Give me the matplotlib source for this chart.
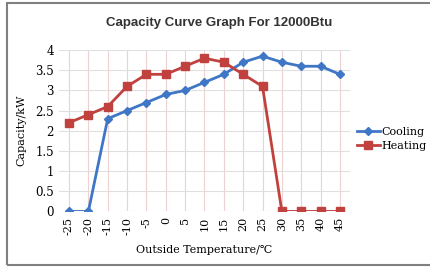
import numpy as np
import matplotlib.pyplot as plt
from matplotlib.patches import Rectangle

temps = [-25, -20, -15, -10, -5, 0, 5, 10, 15, 20, 25, 30, 35, 40, 45]
cooling = [0, 0, 2.3, 2.5, 2.7, 2.9, 3.0, 3.2, 3.4, 3.7, 3.85, 3.7, 3.6, 3.6, 3.4]
heating = [2.2, 2.4, 2.6, 3.1, 3.4, 3.4, 3.6, 3.8, 3.7, 3.4, 3.1, 0, 0, 0, 0]
yticks = [0, 0.5, 1, 1.5, 2, 2.5, 3, 3.5, 4]

serif = ['DejaVu Serif', 'Liberation Serif']

fig = plt.figure(figsize=(4.3, 2.68), dpi=100)
fig.patches.append(Rectangle((7 / 430, 3 / 268), 1.0, 262 / 268, transform=fig.transFigure,
                             fill=False, edgecolor='#808080', linewidth=1.5))
ax = fig.add_axes([0.138, 0.211, 0.675, 0.602])

x = np.arange(len(temps))
ax.plot(x, cooling, color='#3f76c6', marker='D', markersize=4.5, linewidth=2, label='Cooling', zorder=3)
ax.plot(x, heating, color='#c0413d', marker='s', markersize=6, linewidth=2, label='Heating', zorder=3)

ax.set_xlim(-0.5, len(temps) - 0.5)
ax.set_ylim(0, 4)
ax.set_xticks(x)
ax.set_xticklabels([str(t) for t in temps], rotation=90, fontsize=8, family=serif)
ax.set_yticks(yticks)
ax.set_yticklabels([f'{v:g}' for v in yticks], fontsize=8.5, family=serif)
ax.tick_params(length=0, pad=4)
for s in ax.spines.values():
    s.set_visible(False)
ax.yaxis.grid(True, color='#e0e0e0', linewidth=0.8)
ax.xaxis.grid(True, color='#ecd2d2', linewidth=0.8)
ax.set_axisbelow(True)

ax.set_ylabel('Capacity/kW', fontsize=8, family=serif, labelpad=6)
ax.set_xlabel('Outside Temperature/℃', fontsize=8, family=serif, labelpad=7)
fig.text(0.51, 0.915, 'Capacity Curve Graph For 12000Btu', ha='center', va='center',
         fontsize=9.5, fontweight='bold', family=['Liberation Sans', 'DejaVu Sans'], color='#333333')

ax.legend(loc='center left', bbox_to_anchor=(1.0, 0.45), frameon=False, handlelength=2,
          prop={'family': serif, 'size': 8}, borderaxespad=0.3, handletextpad=0.2, labelspacing=0.3)

fig.savefig('out.png', dpi=100)
